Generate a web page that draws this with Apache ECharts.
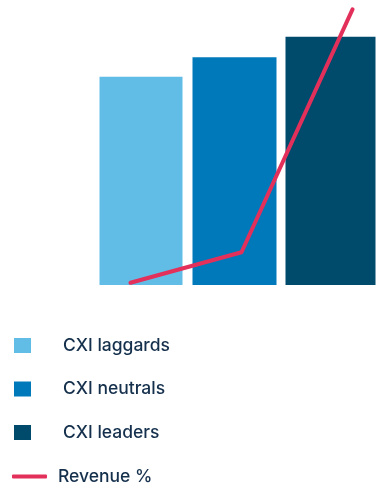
<!DOCTYPE html>
<html>
<head>
<meta charset="utf-8">
<script src="https://cdn.jsdelivr.net/npm/echarts@6/dist/echarts.min.js"></script>
<style>
  html, body { margin: 0; padding: 0; background: #ffffff; }
  #chart { width: 377px; height: 488px; }
</style>
</head>
<body>
<div id="chart"></div>
<script>
// Segments and their index values
const categories = ['CXI laggards', 'CXI neutrals', 'CXI leaders'];
const barValues = [73.1, 79.9, 87.1];
const revenueValues = [0.8, 11.5, 96.7];
const barColors = ['#62bde6', '#0079bb', '#004a6c'];
const barWidths = [83, 84, 90];
const lineColor = '#e3305b';
const textColor = '#15304c';
const fontFamily = 'Inter, "Noto Sans", sans-serif';

const chart = echarts.init(document.getElementById('chart'), null, { renderer: 'canvas' });

// One series per segment so each gets its own legend entry
const barSeries = categories.map((name, i) => ({
  name: name,
  type: 'bar',
  xAxisIndex: 0,
  yAxisIndex: 0,
  barWidth: barWidths[i],
  barGap: '-100%',
  itemStyle: { color: barColors[i] },
  data: barValues.map((v, j) => (j === i ? v : '-')),
  silent: true
}));

const legendText = {
  color: textColor,
  fontFamily: fontFamily,
  fontSize: 17.5,
  fontWeight: 500,
  lineHeight: 15
};

chart.setOption({
  animation: false,
  grid: [
    { left: 98, width: 285, top: 0, bottom: 203 },
    { left: 130.5, right: 24.5, top: 0, bottom: 203 }
  ],
  xAxis: [
    { type: 'category', gridIndex: 0, data: categories, boundaryGap: true, show: false },
    { type: 'category', gridIndex: 1, data: categories, boundaryGap: false, show: false }
  ],
  yAxis: [
    { type: 'value', gridIndex: 0, min: 0, max: 100, show: false },
    { type: 'value', gridIndex: 1, min: 0, max: 100, show: false }
  ],
  legend: [
    {
      orient: 'vertical',
      left: 9,
      top: 331.5,
      itemWidth: 17,
      itemHeight: 15,
      itemGap: 25.5,
      icon: 'rect',
      data: categories,
      selectedMode: false,
      textStyle: Object.assign({ padding: [0, 0, 0, 27] }, legendText)
    },
    {
      orient: 'vertical',
      left: 7,
      top: 462.5,
      itemWidth: 35,
      itemHeight: 4,
      data: [{ name: 'Revenue %', icon: 'roundRect' }],
      selectedMode: false,
      textStyle: Object.assign({ padding: [0, 0, 0, 6] }, legendText)
    }
  ],
  series: barSeries.concat([{
    name: 'Revenue %',
    type: 'line',
    xAxisIndex: 1,
    yAxisIndex: 1,
    symbol: 'none',
    lineStyle: { color: lineColor, width: 4, cap: 'round', join: 'round' },
    itemStyle: { color: lineColor },
    data: revenueValues,
    z: 5,
    silent: true
  }])
});
</script>
</body>
</html>
